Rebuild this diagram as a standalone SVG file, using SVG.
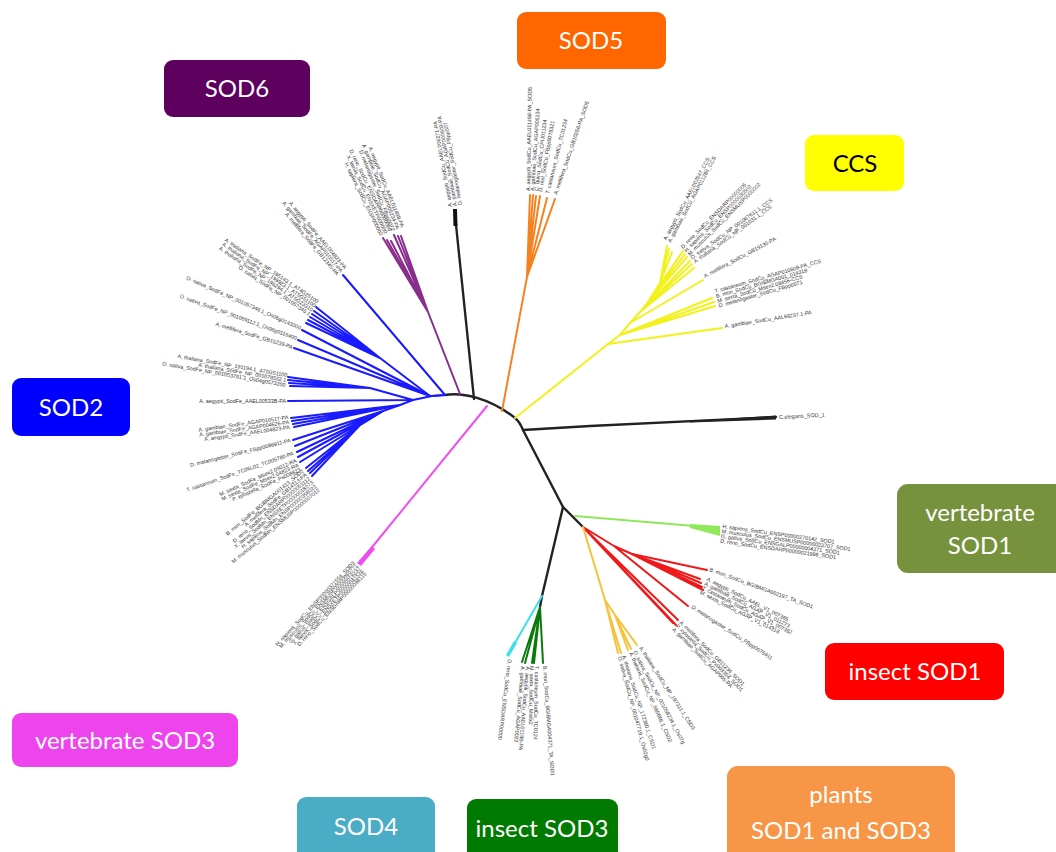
<svg xmlns="http://www.w3.org/2000/svg" width="1056" height="852" viewBox="0 0 1056 852">
<style>
.bx{font-family:Lato,"Open Sans","Liberation Sans",sans-serif;font-size:24px;text-anchor:middle;fill:#fff}
.br{fill:none;stroke-width:2;stroke-linecap:round;stroke-linejoin:round}
.k{stroke:#222;stroke-width:2.4}
.b{stroke:#1a1aff}.p{stroke:#8a2e8e}.o{stroke:#f58220}.y{stroke:#f2f21a}.m{stroke:#f04ef0}
.lg{stroke:#8fe85a}.r{stroke:#f01818}.g{stroke:#f5c23a}.c{stroke:#3ee0ec}.dg{stroke:#0a7a0a}
.lf{font-family:"Liberation Sans",Arial,sans-serif;font-size:5.4px;fill:#333}
.e{text-anchor:end}
</style>
<rect width="1056" height="852" fill="#fff"/>
<g id="connectors">
<path class="br k" d="M445,395 C462,392 490,398 515,418 C519,421 521,425 523,430 L563,507 L583,527"/>
<path class="br k" d="M523,430 L590,426 L776,417"/>
<polygon points="690,421 776,415.5 776,419.5 690,422.5" fill="#222"/>
<path class="br k" d="M474,399 L455,215"/>
<polygon points="453,209 457,209 457.5,226 453.5,226" fill="#111"/>
<path class="br k" d="M563,507 L542,596 L540,607"/>
<g class="br b">
<path d="M432,396 L445,395 L343,275"/>
<path d="M430,396 L380,358 L316,307 M380,358 L314,311 M380,358 L312,314 M380,358 L310,317 M380,358 L308,320 M380,358 L306,323"/>
<path d="M430,396 L302,330 M430,396 L298,340 M430,396 L294,348"/>
<path d="M413,400 L370,388 L288,377 M370,388 L288,380 M370,388 L289,383 M370,388 L290,386 M413,400 L288,401"/>
<path d="M400,405 L291,418 M400,405 L292,421 M400,405 L293,424 M400,405 L294,427"/>
<path d="M383,411 L293,440 M383,411 L295,446 M383,411 L297,452 M383,411 L298,457 M383,411 L300,462"/>
<path d="M445,395 L432,396 L413,400 L400,405 L383,411 L360,425 L306,468 M360,425 L308,471 M360,425 L310,473 M360,425 L312,476"/>
</g>
<g class="br p">
<path d="M460,394 L428,312 L383,238 M428,312 L387,240 M428,312 L391,241 M428,312 L394,235 M428,312 L398,236 M428,312 L401,236"/>
</g>
<path class="br m" d="M487,406 L360,562"/>
<polygon points="372,546 375,549 361,566 357,563" fill="#f04ef0"/>
<g class="br o">
<path d="M502,411 L527,277 L530,195 M527,277 L533,195 M527,277 L536,196 M527,277 L540,196 M527,277 L547,198 M527,277 L555,199"/>
</g>
<g class="br y">
<path d="M515,418 L608,344 L722,328 M608,344 L620,335 L715,306 M620,335 L714,302 M620,335 L712,298"/>
<path d="M620,335 L630,323 L703,280 M630,323 L640,312 L694,268 M640,312 L692,264 M640,312 L690,261"/>
<path d="M640,312 L648,302 L687,257 M648,302 L685,254 M648,302 L683,251 M648,302 L660,283 L672,252 M660,283 L669,249 M660,283 L667,246"/>
</g>
<g class="br lg">
<path d="M575,516 L718,528"/>
</g>
<polygon points="690,524 720,526 720,536 690,528" fill="#8fe85a"/>
<g class="br r">
<path d="M583,527 L673,623 M583,527 L676,625 M583,527 L678,620 M583,527 L614,546 L688,606 M614,546 L632,554 L707,570"/>
<path d="M632,554 L700,579 M632,554 L701,583 M632,554 L702,587 M632,554 L703,590"/>
</g>
<g class="br g">
<path d="M583,527 L605,600 L618,653 M605,600 L621,653 M605,600 L615,615 L628,650 M615,615 L631,649 M615,615 L637,645"/>
</g>
<path class="br c" d="M542,596 L508,655"/>
<polygon points="514,641 517,643 509,657 506,655" fill="#3ee0ec"/>
<g class="br dg">
<path d="M540,607 L522,662 M540,607 L525,663 M540,607 L532,663 M540,607 L534,663 M540,607 L543,663"/>
</g>
</g>
<g id="leaf-labels">
<g transform="translate(341,272) rotate(50)"><text class="lf e" y="-4">A. aegypti_SodFe_AAEL004823-PA</text><text class="lf e" y="1">A. gambiae_SodFe_AGAP010517-PA</text><text class="lf e" y="6">A. mellifera_SodFe_GB12345-PA</text></g>
<g transform="translate(312,311) rotate(34)"><text class="lf e" y="-9">A. thaliana_SodFe_NP_195143.1_AT4G25100</text><text class="lf e" y="-4">A. thaliana_SodFe_NP_199923.1_AT5G51100</text><text class="lf e" y="1">A. thaliana_SodFe_NP_196294.1_AT5G23310</text><text class="lf e" y="6">O. sativa_SodFe_NP_001057346.1</text></g>
<text class="lf e" transform="translate(300,330) rotate(24)">O. sativa_SodFe_NP_001057346.1_Os06g0143000</text>
<text class="lf e" transform="translate(296,340) rotate(20)">O. sativa_SodFe_NP_001059112.1_Os06g0115400</text>
<text class="lf e" transform="translate(292,349) rotate(17)">A. mellifera_SodFe_GB15239-PA</text>
<g transform="translate(286,382) rotate(10)"><text class="lf e" y="-5">A. thaliana_SodFe_NP_191194.1_AT5G51100</text><text class="lf e" y="0">A. thaliana_SodFe_NP_001078552.1</text><text class="lf e" y="5">O. sativa_SodFe_NP_001053781.1_Os04g0573200</text></g>
<text class="lf e" x="286" y="403">A. aegypti_SodFe_AAEL00533B-PA</text>
<g transform="translate(289,422) rotate(-8)"><text class="lf e" y="-3">A. gambiae_SodFe_AGAP010517-PA</text><text class="lf e" y="2">A. gambiae_SodFe_AGAP004626-PA</text><text class="lf e" y="7">A. aegypti_SodFe_AAEL004823-PA</text></g>
<text class="lf e" transform="translate(291,442) rotate(-14)">D. melanogaster_SodFe_FBpp0086911-PA</text>
<text class="lf e" transform="translate(294,455) rotate(-19)">T. castaneum_SodFe_TC06L02_TC005780-PA</text>
<g transform="translate(297,462) rotate(-24)"><text class="lf e" y="0">M. sexta_SodFe_Msex2.09012-RA</text><text class="lf e" y="5">M. sexta_SodFe_Msex2.04823-RA</text><text class="lf e" y="10">P. xylostella_SodFe_Px008823</text></g>
<g transform="translate(306,474) rotate(-40)"><text class="lf e" y="-3">B. mori_SodFe_BGIBMGA001413_SOD2</text><text class="lf e" y="2">A. mellifera_SodFe_GB14113-PA</text><text class="lf e" y="7">D. rerio_SodMn_ENSDARP00000051112</text><text class="lf e" y="12">X. laevis_SodMn_ENSXETP00000018273</text><text class="lf e" y="17">H. sapiens_SodMn_ENSP00000356022</text><text class="lf e" y="22">M. musculus_SodMn_ENSMUSP00000007012</text></g>
<g transform="translate(358,566) rotate(-47)"><text class="lf e" y="-4">H. sapiens_SodCu_ENSP00000371554_SOD3</text><text class="lf e" y="0">M. musculus_SodCu_ENSMUSP00000060771</text><text class="lf e" y="4">G. gallus_SodCu_ENSGALP00000019237</text><text class="lf e" y="8">X. laevis_SodCu_ENSXETP00000041526</text><text class="lf e" y="12">D. rerio_SodCu_ENSDARP00000098115</text></g>
<g transform="translate(386,233) rotate(64)"><text class="lf e" y="-3">D. rerio_SodCu_ENSDARP00000066</text><text class="lf e" y="2">X. laevis_SodCu_ENSXETP000000</text><text class="lf e" y="7">H. sapiens_SodCu_ENSP000003</text></g>
<g transform="translate(398,229) rotate(68)"><text class="lf e" y="-3">A. aegypti_SodCu_AAEL011498-PA</text><text class="lf e" y="2">A. gambiae_SodCu_AGAP005234-PA</text><text class="lf e" y="7">D. melanogaster_SodCu_FBpp0072</text></g>
<g transform="translate(455,206) rotate(-100)"><text class="lf" y="-3">A. aegypti_SodCu_AAEL006271-PA</text><text class="lf" y="2">A. gambiae_SodCu_AGAP000903-PA</text><text class="lf" y="7">D. melanogaster_SodCu_FBpp007</text></g>
<text class="lf" transform="translate(530,191) rotate(-89)">A. aegypti_SodCu_AAEL011498-PA_SOD5</text>
<text class="lf" transform="translate(534,191) rotate(-86)">A. gambiae_SodCu_AGAP005234</text>
<text class="lf" transform="translate(538,191) rotate(-83)">C. quinq_SodCu_CPIJ011234</text>
<text class="lf" transform="translate(542,192) rotate(-80)">D. mel_SodCu_FBpp0078321</text>
<text class="lf" transform="translate(549,194) rotate(-76)">T. castaneum_SodCu_TC01234</text>
<text class="lf" transform="translate(557,195) rotate(-71)">A. mellifera_SodCu_GB10256-PA_SOD5</text>
<g transform="translate(669,242) rotate(-62)"><text class="lf" y="-3">A. aegypti_SodCu_AAEL002547_CCS</text><text class="lf" y="2">A. gambiae_SodCu_AGAP011284_CCS</text></g>
<g transform="translate(685,251) rotate(-45)"><text class="lf" y="-3">D. rerio_SodCu_ENSDARP00000006</text><text class="lf" y="2">H. sapiens_SodCu_ENSP0000030502</text><text class="lf" y="7">M. musculus_SodCu_ENSMUSP0000002</text></g>
<g transform="translate(694,262) rotate(-36)"><text class="lf" y="-3">O. sativa_SodCu_NP_001067611.1_CCS</text><text class="lf" y="2">A. thaliana_SodCu_NP_001031.1_CCS</text></g>
<text class="lf" transform="translate(705,278) rotate(-28)">A. mellifera_SodCu_GB19130-PA</text>
<g transform="translate(716,296) rotate(-16)"><text class="lf" y="-3">T. castaneum_SodCu_AGAP010608-PA_CCS</text><text class="lf" y="2">B. mori_SodCu_BGIBMGA001_014318</text><text class="lf" y="7">M. sexta_SodCu_Msex2.09456-CCS</text><text class="lf" y="12">D. melanogaster_SodCu_FBpp0071</text></g>
<text class="lf" transform="translate(725,328) rotate(-9)">A. gambiae_SodCu_AAL69237.1-PA</text>
<text style="font-family:'Liberation Sans',Arial,sans-serif;font-size:5.5px;fill:#333" transform="translate(779,419) rotate(-3)">C.elegans_SOD_1</text>
<g transform="translate(722,529) rotate(8)"><text class="lf" y="-1">H. sapiens_SodCu_ENSP00000270142_SOD1</text><text class="lf" y="4">M. musculus_SodCu_ENSMUSP00000023707_SOD1</text><text class="lf" y="9">G. gallus_SodCu_ENSGALP00000004371_SOD1</text><text class="lf" y="14">D. rerio_SodCu_ENSDARP00000021996_SOD1</text></g>
<text class="lf" transform="translate(709,571) rotate(20)">B. mori_SodCu_BGIBMGA002197_TA_SOD1</text>
<g transform="translate(705,583) rotate(27)"><text class="lf" y="-3">A. aegypti_SodCu_AAEL_V1_007365</text><text class="lf" y="2">A. gambiae_SodCu_AGAP_V1_011273</text><text class="lf" y="7">T. castaneum_SodCu_AGAP_V1_007362</text><text class="lf" y="12">M. sexta_SodCu_AGAP_V1_014318</text></g>
<text class="lf" transform="translate(691,608) rotate(33)">D. melanogaster_SodCu_FBpp0076911</text>
<g transform="translate(677,625) rotate(45)"><text class="lf" y="-3">A. mellifera_SodCu_GB11234_SOD1</text><text class="lf" y="2">P. xylostella_SodCu_Px003354_SOD1</text><text class="lf" y="7">A. gambiae_SodCu_AGAP005-PA</text></g>
<text class="lf" transform="translate(618,657) rotate(75)">O. sativa_SodCu_NP_001047719.1_Os02g0</text>
<text class="lf" transform="translate(622,656) rotate(72)">A. thaliana_SodCu_NP_172360.1_CSD1</text>
<text class="lf" transform="translate(629,653) rotate(66)">A. thaliana_SodCu_NP_565666.1_CSD2</text>
<text class="lf" transform="translate(633,652) rotate(62)">O. sativa_SodCu_NP_001058234.1_Os07g</text>
<text class="lf" transform="translate(639,648) rotate(57)">A. thaliana_SodCu_NP_197311.1_CSD3</text>
<text class="lf" transform="translate(508,659) rotate(97)">D. rerio_SodCu_ENSDARP00000</text>
<g transform="translate(522,666) rotate(95)"><text class="lf" y="-4">A. aegypti_SodCu_AAEL0119B-PA</text><text class="lf" y="1">A. gambiae_SodCu_AGAP0022</text></g>
<g transform="translate(533,666) rotate(91)"><text class="lf" y="-2">T. castaneum_SodCu_TC0124</text><text class="lf" y="3">M. sexta_SodCu_Msex2</text></g>
<text class="lf" transform="translate(543,666) rotate(86)">B. mori_SodCu_BGIBMGA004371_TA_SOD3</text>
</g>
<g id="n-sod5"><rect x="517" y="12" width="149" height="57" rx="9" fill="#ff6600"/><text class="bx" x="591" y="49">SOD5</text></g>
<g id="n-sod6"><rect x="164" y="60" width="146" height="57" rx="9" fill="#5e005e"/><text class="bx" x="237" y="97">SOD6</text></g>
<g id="n-ccs"><rect x="805" y="135" width="99" height="56" rx="9" fill="#ffff00"/><text class="bx" x="855" y="172" style="fill:#000">CCS</text></g>
<g id="n-sod2"><rect x="12" y="378" width="118" height="58" rx="9" fill="#0000ff"/><text class="bx" x="71" y="416">SOD2</text></g>
<g id="n-vsod1"><rect x="897" y="484" width="170" height="89" rx="11" fill="#76923c"/><text class="bx" x="980" y="521">vertebrate</text><text class="bx" x="980" y="554">SOD1</text></g>
<g id="n-isod1"><rect x="825" y="643" width="179" height="57" rx="9" fill="#ff0000"/><text class="bx" x="915" y="680">insect SOD1</text></g>
<g id="n-vsod3"><rect x="12" y="713" width="226" height="54" rx="9" fill="#ee44ee"/><text class="bx" x="125" y="749">vertebrate SOD3</text></g>
<g id="n-sod4"><rect x="297" y="797" width="138" height="66" rx="9" fill="#4bacc6"/><text class="bx" x="366" y="835">SOD4</text></g>
<g id="n-isod3"><rect x="467" y="799" width="151" height="64" rx="9" fill="#007a00"/><text class="bx" x="542" y="837">insect SOD3</text></g>
<g id="n-plants"><rect x="727" y="766" width="228" height="96" rx="11" fill="#f79646"/><text class="bx" x="841" y="803">plants</text><text class="bx" x="841" y="839">SOD1 and SOD3</text></g>
</svg>
